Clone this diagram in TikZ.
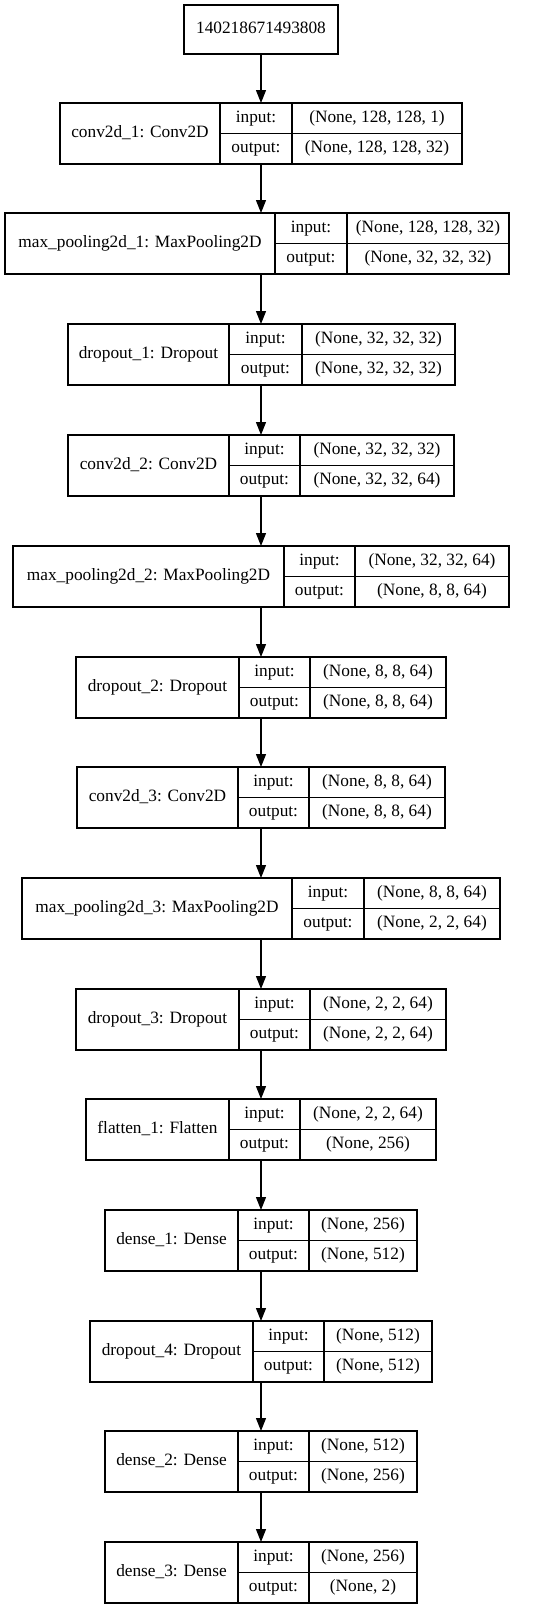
\documentclass[tikz,border=0pt]{standalone}
\usepackage{fontspec}
\setmainfont{Liberation Serif}
\usepackage{tikz}
\usetikzlibrary{arrows.meta, positioning}
\tikzset{
  layer/.style={draw, rectangle, inner sep=0pt, outer sep=0pt, text height=12pt, text depth=4pt, font=\fontsize{17.3}{20}\selectfont},
  cell/.style={layer, minimum height=30.5pt},
}

\begin{document}
\begin{tikzpicture}[x=1pt, y=-1pt, >={Triangle[length=13pt, width=10pt]}, line width=1.2pt]
\useasboundingbox (0,0) rectangle (535,1609);
\node[layer, minimum width=154pt, minimum height=49pt] (top) at (261,29.5) {140218671493808};
% layers: name/top/left/divider/divider/right/label/input/output
\foreach \n/\y/\a/\b/\c/\d/\txt/\si/\so in {
  conv1/103/60/220/292/462/{conv2d\_1: Conv2D}/{(None, 128, 128, 1)}/{(None, 128, 128, 32)},
  mp1/213/5/275/347/509/{max\_pooling2d\_1: MaxPooling2D}/{(None, 128, 128, 32)}/{(None, 32, 32, 32)},
  do1/324/68/229/302/455/{dropout\_1: Dropout}/{(None, 32, 32, 32)}/{(None, 32, 32, 32)},
  conv2/435/68/229/300/454/{conv2d\_2: Conv2D}/{(None, 32, 32, 32)}/{(None, 32, 32, 64)},
  mp2/546/13/284/355/509/{max\_pooling2d\_2: MaxPooling2D}/{(None, 32, 32, 64)}/{(None, 8, 8, 64)},
  do2/657/76/239/310/446/{dropout\_2: Dropout}/{(None, 8, 8, 64)}/{(None, 8, 8, 64)},
  conv3/767/77/238/309/445/{conv2d\_3: Conv2D}/{(None, 8, 8, 64)}/{(None, 8, 8, 64)},
  mp3/878/22/292/364/500/{max\_pooling2d\_3: MaxPooling2D}/{(None, 8, 8, 64)}/{(None, 2, 2, 64)},
  do3/989/76/239/310/446/{dropout\_3: Dropout}/{(None, 2, 2, 64)}/{(None, 2, 2, 64)},
  fl1/1099/86/229/300/436/{flatten\_1: Flatten}/{(None, 2, 2, 64)}/{(None, 256)},
  d1/1210/105/238/309/417/{dense\_1: Dense}/{(None, 256)}/{(None, 512)},
  do4/1321/90/253/324/432/{dropout\_4: Dropout}/{(None, 512)}/{(None, 512)},
  d2/1431/105/238/309/417/{dense\_2: Dense}/{(None, 512)}/{(None, 256)},
  d3/1542/105/238/309/417/{dense\_3: Dense}/{(None, 256)}/{(None, 2)}}{
  \node[layer, anchor=north west, minimum width={(\b-\a)*1pt}, minimum height=61pt] (\n) at (\a,\y) {\txt};
  \node[cell, anchor=north west, minimum width={(\c-\b)*1pt}] (\n-il) at (\n.north east) {input:};
  \node[cell, anchor=north west, minimum width={(\d-\c)*1pt}] (\n-iv) at (\n-il.north east) {\si};
  \node[cell, anchor=north west, minimum width={(\c-\b)*1pt}] (\n-ol) at (\n-il.south west) {output:};
  \node[cell, anchor=north west, minimum width={(\d-\c)*1pt}] (\n-ov) at (\n-ol.north east) {\so};
}
\foreach \a/\b in {top/conv1, conv1/mp1, mp1/do1, do1/conv2, conv2/mp2, mp2/do2, do2/conv3, conv3/mp3, mp3/do3, do3/fl1, fl1/d1, d1/do4, do4/d2, d2/d3}
  \draw[->] (top |- \a.south) -- (top |- \b.north);
\end{tikzpicture}
\end{document}
